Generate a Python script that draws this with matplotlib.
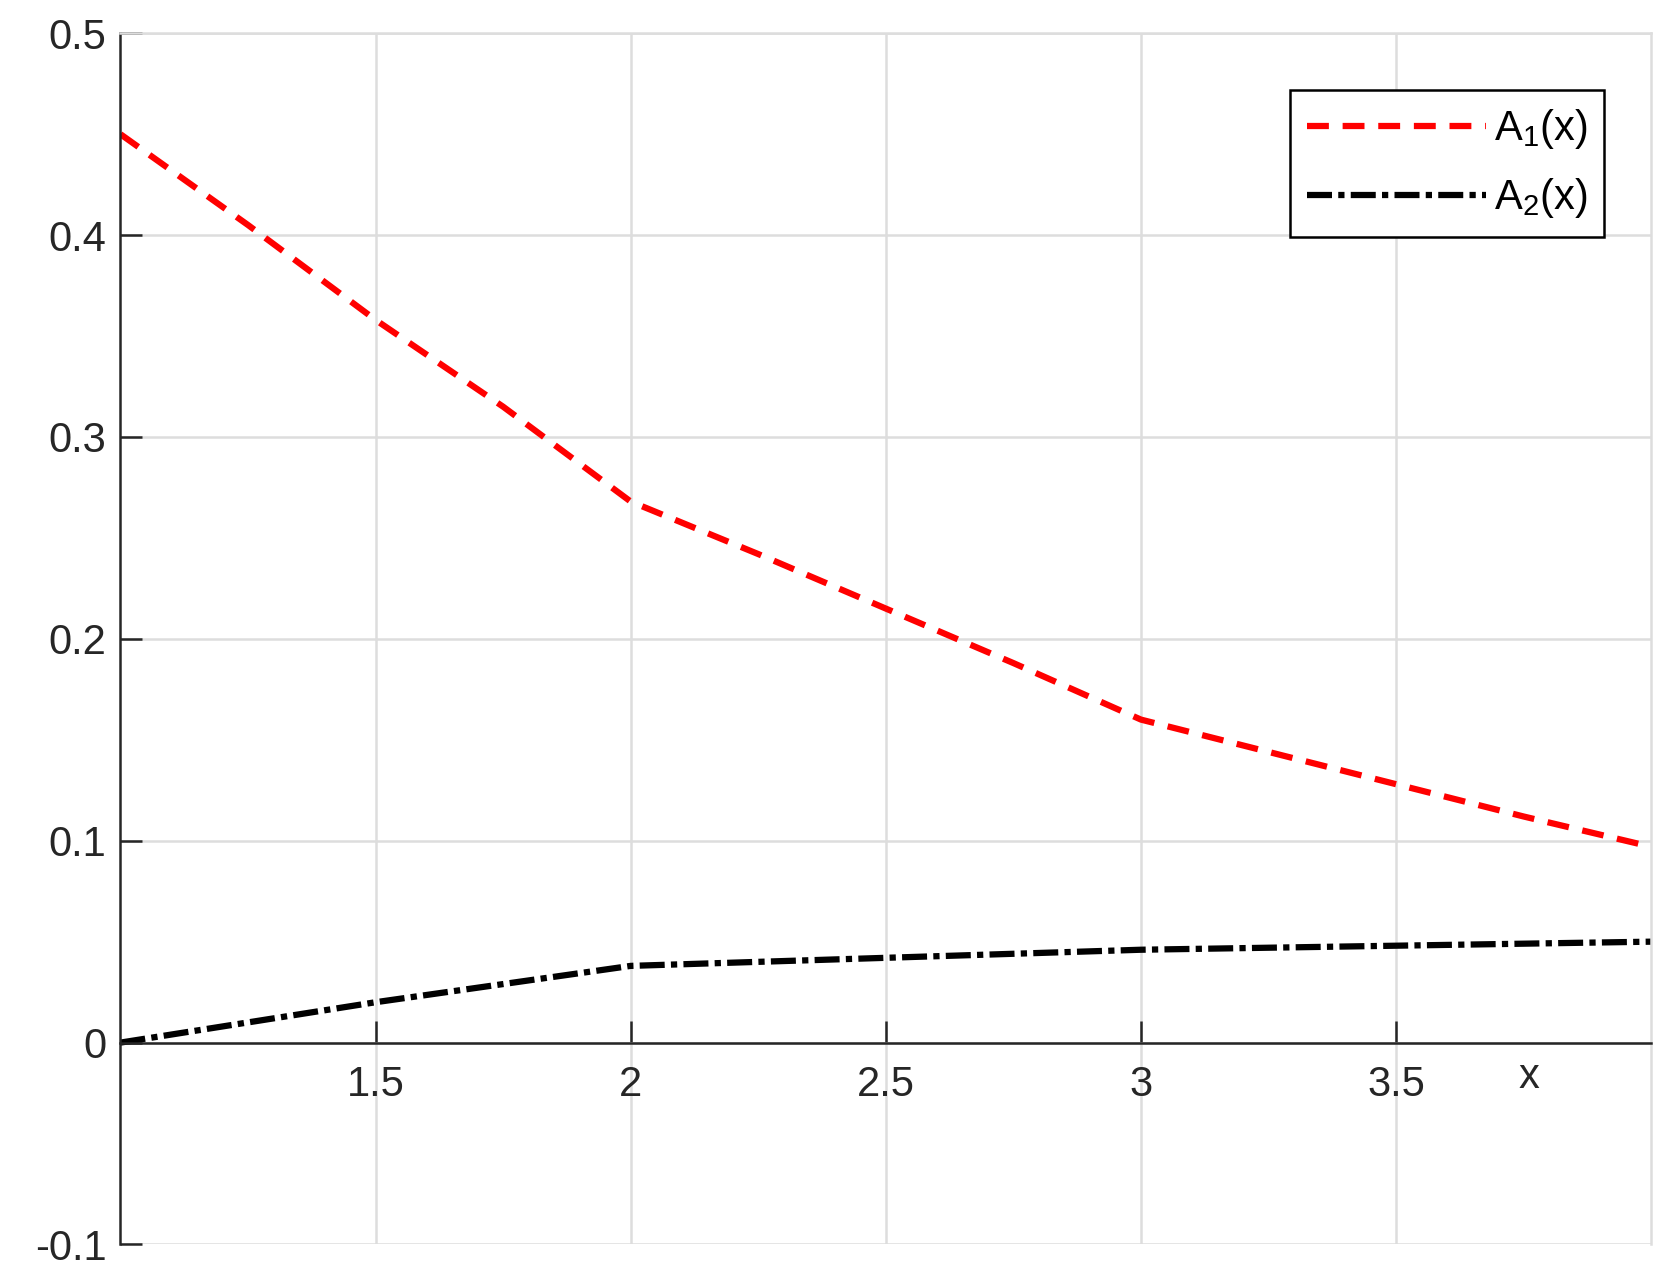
import matplotlib
matplotlib.use("Agg")
import matplotlib.pyplot as plt

x = [1.0, 1.25, 1.5, 1.75, 2.0, 2.25, 2.5, 2.75, 3.0, 3.25, 3.5, 3.75, 4.0]
a1 = [0.45, 0.405, 0.358, 0.315, 0.268, 0.242, 0.215, 0.188, 0.160, 0.144, 0.128, 0.112, 0.097]
a2 = [0.0, 0.010, 0.020, 0.029, 0.038, 0.040, 0.042, 0.044, 0.046, 0.047, 0.048, 0.049, 0.050]
xticks = [1.5, 2, 2.5, 3, 3.5]
yticks = [-0.1, 0, 0.1, 0.2, 0.3, 0.4, 0.5]

plt.rcParams['font.family'] = ['Liberation Sans', 'DejaVu Sans']
plt.rcParams['mathtext.fontset'] = 'custom'
plt.rcParams['mathtext.rm'] = 'Liberation Sans'
fig = plt.figure(figsize=(16.73, 12.79), dpi=100)
ax = fig.add_axes([0.072, 0.027, 0.915, 0.947])
ax.plot(x, a1, color='red', ls=(0, (3.5, 2.2)), lw=4.5, label='A$_1$(x)')
ax.plot(x, a2, color='black', ls=(0, (4, 1, 1, 1)), lw=4.5, label='A$_2$(x)')
ax.set_xlim(1, 4)
ax.set_ylim(-0.1, 0.5)
ax.set_xticks(xticks)
ax.set_xticklabels(['1.5', '2', '2.5', '3', '3.5'])
ax.set_yticks(yticks)
ax.set_yticklabels(['-0.1', '0', '0.1', '0.2', '0.3', '0.4', '0.5'])
ax.grid(True, color='#dddddd', lw=1.8)
ax.set_axisbelow(True)
ax.spines['bottom'].set_position(('data', 0))
for s in ['top', 'right']:
    ax.spines[s].set_color('#dddddd')
    ax.spines[s].set_linewidth(1.8)
for s in ['left', 'bottom']:
    ax.spines[s].set_color('#262626')
    ax.spines[s].set_linewidth(1.8)
ax.tick_params(direction='in', length=16, width=1.8, labelsize=30, colors='#262626')
ax.tick_params(axis='x', pad=16)
ax.tick_params(axis='y', pad=10)
ax.text(3.76, -0.017, 'x', fontsize=30, color='#262626', ha='center', va='center')
leg = ax.legend(loc='upper right', bbox_to_anchor=(0.983, 0.97), fontsize=30,
                fancybox=False, edgecolor='black', framealpha=1, handlelength=4.3,
                handletextpad=0.2, borderpad=0.4, labelspacing=0.6)
leg.get_frame().set_linewidth(1.8)
fig.savefig('out.png', dpi=100)
